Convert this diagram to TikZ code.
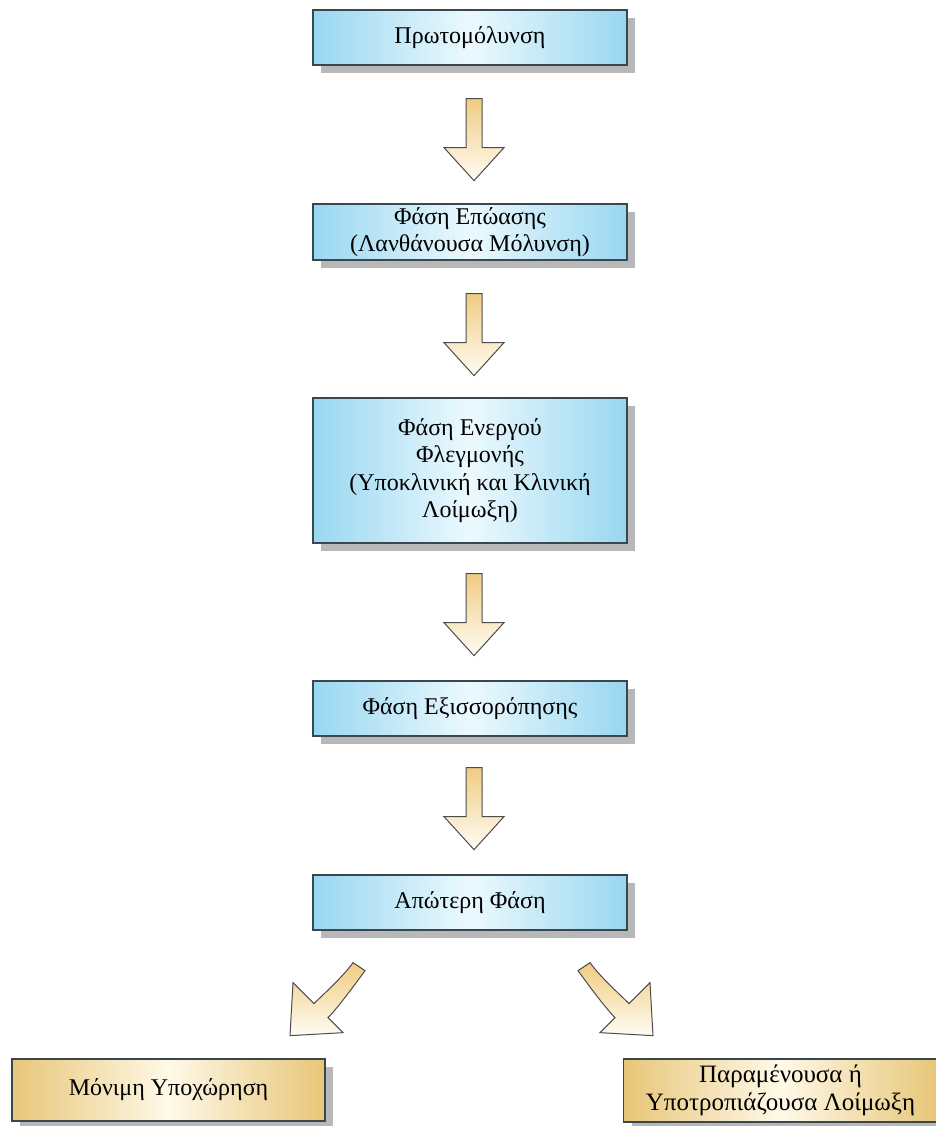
\documentclass[tikz,border=0pt]{standalone}
\usepackage{fontspec}
\setmainfont{Liberation Serif}
\usetikzlibrary{shadows,calc}
\definecolor{bedge}{RGB}{152,215,240}
\definecolor{bmid}{RGB}{236,249,254}
\definecolor{yedge}{RGB}{231,198,120}
\definecolor{ymid}{RGB}{255,249,232}
\definecolor{aTop}{RGB}{240,204,130}
\definecolor{aBot}{RGB}{255,252,244}
\definecolor{bord}{RGB}{58,70,80}
\begin{document}
\begin{tikzpicture}[x=1pt,y=-1pt,
  boxbase/.style={draw=bord, line width=1.3pt, minimum width=314pt, align=center, inner sep=2pt,
    font=\fontsize{24}{27.5}\selectfont,
    drop shadow={shadow xshift=8pt,shadow yshift=-8pt,fill=black!28,opacity=1}},
  bluebox/.style={boxbase, left color=bedge, right color=bedge, middle color=bmid},
  goldbox/.style={boxbase, left color=yedge, right color=yedge, middle color=ymid},
  blockarrow/.style={draw=black!70, line width=1pt, top color=aTop, bottom color=aBot, line join=miter},
  downarr/.pic={\path[blockarrow] (-8,0) -- (8,0) -- (8,49) -- (30,49) -- (0,82) -- (-30,49) -- (-8,49) -- cycle;}
]
\useasboundingbox (0,0) rectangle (935,1126);
\node[bluebox, minimum height=55pt] (b1) at (470,37.5) {Πρωτομόλυνση};
\node[bluebox, minimum height=56pt] (b2) at (470,232) {Φάση Επώασης\\(Λανθάνουσα Μόλυνση)};
\node[bluebox, minimum height=145pt] (b3) at (470,470.5) {\raisebox{-4pt}{\parbox{300pt}{\centering Φάση Ενεργού\\Φλεγμονής\\(Υποκλινική και Κλινική\\Λοίμωξη)}}};
\node[bluebox, minimum height=55pt] (b4) at (470,708.5) {Φάση Εξισσορόπησης};
\node[bluebox, minimum height=55pt] (b5) at (470,902.5) {Απώτερη Φάση};
\node[goldbox, minimum width=313pt, minimum height=62pt] (lft) at (168.5,1090) {Μόνιμη Υποχώρηση};
\node[goldbox, minimum width=313pt, minimum height=63pt, font=\fontsize{25}{28}\selectfont] (rgt) at (780.5,1090.5) {\raisebox{-4pt}{\parbox{310pt}{\centering Παραμένουσα ή\\Υποτροπιάζουσα Λοίμωξη}}};

\pic at ($(b1.south)+(4,33)$) {downarr};
\pic at ($(b2.south)+(4,33)$) {downarr};
\pic at ($(b3.south)+(4,30)$) {downarr};
\pic at ($(b4.south)+(4,31)$) {downarr};

\begin{scope}[shift={(b5.south)}]
\path[blockarrow] (-117,32) .. controls (-127,46) and (-146,63) .. (-156,73)
  -- (-177,52) -- (-180,105) -- (-127,102) -- (-142,87)
  .. controls (-132,77) and (-113,51) .. (-105,40) -- cycle;
\path[blockarrow] (120,32) .. controls (130,46) and (149,63) .. (159,73)
  -- (180,52) -- (183,105) -- (130,102) -- (145,87)
  .. controls (135,77) and (116,51) .. (108,40) -- cycle;
\end{scope}
\end{tikzpicture}
\end{document}
